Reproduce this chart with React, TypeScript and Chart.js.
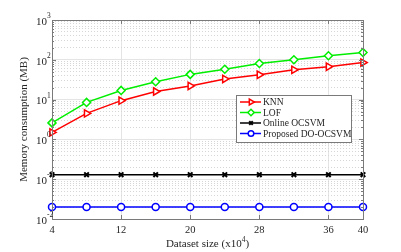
import React, { useEffect, useRef } from "react";
import { Chart, registerables } from "chart.js";
import { drawPoint } from "chart.js/helpers";
Chart.register(...registerables);

const datasetSizes = [4, 8, 12, 16, 20, 24, 28, 32, 36, 40];
const knnMemory = [1.5, 4.5, 9.4, 16, 22, 33, 42, 56, 67, 85];
const lofMemory = [2.6, 8.5, 17, 28, 43, 58, 81, 100, 126, 152];
const onlineOcsvmMemory = [0.13, 0.13, 0.13, 0.13, 0.13, 0.13, 0.13, 0.13, 0.13, 0.13];
const proposedMemory = [0.02, 0.02, 0.02, 0.02, 0.02, 0.02, 0.02, 0.02, 0.02, 0.02];
const seriesNames = ["KNN", "LOF", "Online OCSVM", "Proposed DO-OCSVM"];
const xTickValues = [4, 12, 20, 28, 36, 40];
const yDecadeExponents = [-2, -1, 0, 1, 2, 3];
const xTitle = "Dataset size (x10";
const xTitleExp = "4";
const xTitleEnd = ")";
const yTitle = "Memory consumption (MB)";

const FONT = "'Liberation Serif', 'DejaVu Serif', serif";
const TEXT = "#262626";

const isMajor = (v: number) => {
  const l = Math.log10(v);
  return Math.abs(l - Math.round(l)) < 1e-9;
};

const seriesStyles = [
  { color: "#ff0000", pointStyle: "triangle", rotation: 90, radius: 4.2, bw: 1.5 },
  { color: "#00ee00", pointStyle: "rectRot", rotation: 0, radius: 4, bw: 1.5 },
  { color: "#000000", pointStyle: "crossRot", rotation: 0, radius: 3.2, bw: 2 },
  { color: "#0000ff", pointStyle: "circle", rotation: 0, radius: 3.5, bw: 1.5 },
];

const decorPlugin = {
  id: "decor",
  afterDraw(chart: any) {
    const { ctx, chartArea } = chart;
    const { left, right, top, bottom } = chartArea;
    const xs = chart.scales.x;
    const ys = chart.scales.y;
    ctx.save();
    // box
    ctx.strokeStyle = "#7a7a7a";
    ctx.lineWidth = 1;
    ctx.strokeRect(Math.round(left) + 0.5, Math.round(top) + 0.5, Math.round(right - left), Math.round(bottom - top));
    // ticks
    ctx.beginPath();
    ys.ticks.forEach((t: any) => {
      const py = Math.round(ys.getPixelForValue(t.value)) + 0.5;
      const len = isMajor(t.value) ? 4 : 2;
      ctx.moveTo(left, py);
      ctx.lineTo(left + len, py);
      ctx.moveTo(right, py);
      ctx.lineTo(right - len, py);
    });
    xTickValues.forEach((v) => {
      const px = Math.round(xs.getPixelForValue(v)) + 0.5;
      ctx.moveTo(px, bottom);
      ctx.lineTo(px, bottom - 4);
      ctx.moveTo(px, top);
      ctx.lineTo(px, top + 4);
    });
    ctx.stroke();
    // y labels
    ctx.fillStyle = TEXT;
    ctx.textBaseline = "middle";
    yDecadeExponents.forEach((e) => {
      const py = ys.getPixelForValue(Math.pow(10, e));
      ctx.font = `11px ${FONT}`;
      ctx.textAlign = "right";
      ctx.fillText("10", left - 5, py + 2);
      ctx.font = `7.5px ${FONT}`;
      ctx.textAlign = "left";
      ctx.fillText(String(e), left - 5, py - 4);
    });
    // x labels
    ctx.font = `10.5px ${FONT}`;
    ctx.textAlign = "center";
    xTickValues.forEach((v) => {
      ctx.fillText(String(v), xs.getPixelForValue(v), bottom + 11);
    });
    // x title
    const cx = (left + right) / 2;
    ctx.font = `11px ${FONT}`;
    const w1 = ctx.measureText(xTitle).width;
    ctx.font = `7.5px ${FONT}`;
    const w2 = ctx.measureText(xTitleExp).width;
    ctx.font = `11px ${FONT}`;
    const w3 = ctx.measureText(xTitleEnd).width;
    let sx = cx - (w1 + w2 + w3) / 2;
    const ty = bottom + 25;
    ctx.textAlign = "left";
    ctx.fillText(xTitle, sx, ty);
    sx += w1;
    ctx.font = `7.5px ${FONT}`;
    ctx.fillText(xTitleExp, sx, ty - 4);
    sx += w2;
    ctx.font = `11px ${FONT}`;
    ctx.fillText(xTitleEnd, sx, ty);
    // y title
    ctx.save();
    ctx.translate(24, (top + bottom) / 2);
    ctx.rotate(-Math.PI / 2);
    ctx.textAlign = "center";
    ctx.fillText(yTitle, 0, 0);
    ctx.restore();
    // legend
    const lx = 236, lyTop = 95, lw = 115, lh = 47;
    ctx.fillStyle = "#ffffff";
    ctx.fillRect(lx, lyTop, lw, lh);
    ctx.strokeStyle = "#7a7a7a";
    ctx.lineWidth = 1;
    ctx.strokeRect(lx + 0.5, lyTop + 0.5, lw, lh);
    seriesNames.forEach((name, i) => {
      const st = seriesStyles[i];
      const ry = lyTop + 7 + i * 10.5;
      ctx.strokeStyle = st.color;
      ctx.lineWidth = 1.5;
      ctx.beginPath();
      ctx.moveTo(240, ry);
      ctx.lineTo(261, ry);
      ctx.stroke();
      ctx.fillStyle = "#ffffff";
      ctx.lineWidth = st.bw;
      drawPoint(ctx, { pointStyle: st.pointStyle, rotation: st.rotation, radius: st.radius * 0.8, borderWidth: st.bw } as any, 251, ry);
      ctx.fillStyle = TEXT;
      ctx.font = `9.5px ${FONT}`;
      ctx.textAlign = "left";
      ctx.textBaseline = "middle";
      ctx.fillText(name, 263, ry + 0.5);
    });
    ctx.restore();
  },
};

export default function App() {
  const ref = useRef<HTMLCanvasElement>(null);
  useEffect(() => {
    document.body.style.margin = "0";
    const allSeries = [knnMemory, lofMemory, onlineOcsvmMemory, proposedMemory];
    const chart = new Chart(ref.current!, {
      type: "line",
      data: {
        datasets: allSeries.map((vals, i) => ({
          label: seriesNames[i],
          data: datasetSizes.map((x, j) => ({ x, y: vals[j] })),
          borderColor: seriesStyles[i].color,
          backgroundColor: "#ffffff",
          borderWidth: 1.5,
          pointStyle: seriesStyles[i].pointStyle as any,
          rotation: seriesStyles[i].rotation,
          pointRadius: seriesStyles[i].radius,
          pointBorderWidth: seriesStyles[i].bw,
          pointBackgroundColor: "#ffffff",
          pointBorderColor: seriesStyles[i].color,
          tension: 0,
          clip: false as any,
        })),
      },
      options: {
        animation: false,
        responsive: false,
        devicePixelRatio: 1,
        layout: { padding: { top: 20, right: 38, left: 0, bottom: 0 } },
        plugins: { legend: { display: false }, tooltip: { enabled: false } },
        scales: {
          x: {
            type: "linear",
            min: 4,
            max: 40,
            afterBuildTicks: (s: any) => {
              s.ticks = xTickValues.map((v) => ({ value: v }));
            },
            afterFit: (s: any) => {
              s.height = 33;
            },
            ticks: { display: false, autoSkip: false },
            grid: { color: "#e4e4e4", lineWidth: 1, drawTicks: false },
            border: { display: false },
          },
          y: {
            type: "logarithmic",
            min: 0.01,
            max: 1000,
            afterBuildTicks: (s: any) => {
              const t: any[] = [];
              yDecadeExponents.forEach((e) => {
                const base = Math.pow(10, e);
                if (e === yDecadeExponents[yDecadeExponents.length - 1]) {
                  t.push({ value: base });
                } else {
                  for (let m = 1; m <= 9; m++) t.push({ value: m * base });
                }
              });
              s.ticks = t;
            },
            afterFit: (s: any) => {
              s.width = 52;
            },
            ticks: { display: false, autoSkip: false },
            grid: {
              drawTicks: false,
              lineWidth: 1,
              color: (c: any) => (c.tick && isMajor(c.tick.value) ? "#e4e4e4" : "#d6d6d6"),
            },
            border: {
              display: false,
              dash: (c: any) => (c.tick && !isMajor(c.tick.value) ? [1, 2] : []),
            },
          },
        },
      },
      plugins: [decorPlugin],
    });
    return () => chart.destroy();
  }, []);
  return (
    <div style={{ width: 401, height: 252 }}>
      <canvas ref={ref} width={401} height={252} style={{ width: 401, height: 252, display: "block" }} />
    </div>
  );
}
